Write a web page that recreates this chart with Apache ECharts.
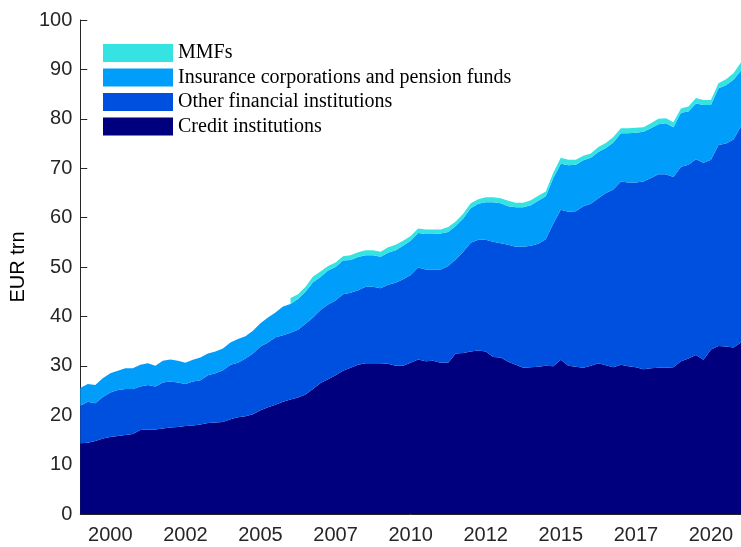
<!DOCTYPE html>
<html>
<head>
<meta charset="utf-8">
<script src="https://cdn.jsdelivr.net/npm/echarts@6/dist/echarts.min.js"></script>
<style>
html,body{margin:0;padding:0;background:#fff;}
#chart{width:741px;height:547px;}
</style>
</head>
<body>
<div id="chart"></div>
<script>
// Quarterly observations, 1999 Q1 .. 2021 Q1 (EUR trn)
const startYear = 1999;
const credit = [14.3,14.4,14.8,15.3,15.6,15.8,16.0,16.2,17.0,17.1,
 17.1,17.3,17.5,17.6,17.8,17.9,18.1,18.4,18.5,18.6,
 19.2,19.6,19.8,20.2,21.0,21.6,22.1,22.7,23.2,23.6,
 24.2,25.3,26.5,27.3,28.1,29.0,29.6,30.2,30.5,30.5,
 30.5,30.4,30.0,30.0,30.6,31.3,30.9,31.0,30.6,30.6,
 32.5,32.6,32.9,33.1,32.9,31.8,31.7,30.8,30.2,29.6,
 29.7,29.8,30.0,29.9,31.2,30.0,29.8,29.6,30.0,30.5,
 30.1,29.7,30.2,29.9,29.7,29.3,29.5,29.6,29.6,29.7,
 30.9,31.5,32.2,31.2,33.3,34.0,33.9,33.7,34.7];
const otherFin = [7.6,8.3,7.6,8.4,9.0,9.3,9.3,9.1,8.8,9.0,
 8.7,9.3,9.3,9.0,8.5,8.9,9.0,9.7,10.0,10.5,
 11.0,11.0,11.7,12.3,12.9,13.1,13.7,13.5,13.5,13.7,
 14.3,14.5,14.8,15.1,15.1,15.5,15.2,15.1,15.5,15.5,
 15.2,16.0,16.8,17.5,17.8,18.6,18.6,18.5,18.9,19.6,
 19.0,20.5,22.0,22.4,22.6,23.3,23.1,23.7,23.9,24.5,
 24.6,24.9,25.6,28.9,30.4,31.2,31.5,32.7,32.8,33.4,
 34.9,36.0,37.1,37.2,37.4,38.0,38.5,39.2,39.2,38.5,
 39.4,39.2,39.6,39.9,38.4,40.7,41.1,42.1,43.8];
const insurance = [3.6,3.6,3.7,3.8,3.9,3.9,4.2,4.2,4.4,4.4,
 4.2,4.4,4.5,4.4,4.3,4.4,4.6,4.4,4.4,4.4,
 4.5,4.8,4.5,4.6,4.7,5.1,5.0,5.8,5.8,6.2,
 6.5,7.1,6.7,6.9,6.8,6.8,6.6,6.7,6.4,6.4,
 6.4,6.5,6.6,6.8,6.9,7.0,7.2,7.2,7.3,6.9,
 6.8,6.7,7.0,7.3,7.6,8.0,8.1,7.8,8.0,8.0,
 8.2,8.7,8.7,9.2,9.3,9.4,9.4,9.3,9.3,9.4,
 9.1,9.5,9.8,10.0,10.1,10.1,10.1,10.1,10.3,10.1,
 10.9,10.8,11.3,11.7,11.1,11.5,11.8,12.1,11.3];
const mmf = [null,null,null,null,null,null,null,null,null,null,
 null,null,null,null,null,null,null,null,null,null,
 null,null,null,null,null,null,null,null,
 1.2,1.0,1.0,1.2,1.1,0.9,0.9,0.9,1.0,1.0,
 1.0,1.0,1.0,1.1,1.1,1.0,1.0,0.9,0.9,0.9,
 0.8,1.0,0.9,1.0,1.0,0.9,1.0,1.0,1.0,1.1,
 0.9,0.9,1.0,1.0,1.0,1.1,1.2,1.1,1.0,0.9,
 0.9,1.0,1.0,1.1,1.0,1.0,1.0,0.9,1.0,1.1,
 1.0,1.0,0.9,1.0,1.1,1.0,1.0,1.0,1.2,1.3,1.6];
const seriesNames = ['Credit institutions','Other financial institutions','Insurance corporations and pension funds','MMFs'];
const tickCats = ['2000Q1','2002Q3','2005Q1','2007Q3','2010Q1','2012Q3','2015Q1','2017Q3','2020Q1'];
const tickLabels = ['2000','2002','2005','2007','2010','2012','2015','2017','2020'];

const quarters = credit.map((_, i) => (startYear + Math.floor(i / 4)) + 'Q' + (i % 4 + 1));
const colors = ['#00007F', '#0050E0', '#009DFA', '#35E3E3'];
const values = [credit, otherFin, insurance, mmf];

const chart = echarts.init(document.getElementById('chart'));
chart.setOption({
  animation: false,
  backgroundColor: '#ffffff',
  grid: { left: 79, right: -2, top: 20, bottom: 33 },
  legend: {
    data: ['MMFs','Insurance corporations and pension funds','Other financial institutions','Credit institutions'],
    orient: 'vertical',
    left: 103, top: 43, padding: 0,
    itemWidth: 70, itemHeight: 18, itemGap: 4.5,
    icon: 'rect',
    textStyle: { fontFamily: 'Liberation Serif', fontSize: 20, color: '#000' }
  },
  xAxis: {
    type: 'category',
    data: quarters,
    boundaryGap: false,
    axisLine: { show: true, lineStyle: { color: '#262626', width: 1 } },
    axisTick: { show: false },
    splitLine: { show: false },
    axisLabel: {
      interval: (idx, val) => tickCats.indexOf(val) >= 0,
      formatter: (val) => tickLabels[tickCats.indexOf(val)],
      fontFamily: 'Liberation Sans', fontSize: 20, color: '#262626', margin: 11
    }
  },
  yAxis: {
    type: 'value',
    min: 0, max: 100, interval: 10,
    name: 'EUR trn',
    nameLocation: 'middle',
    nameGap: 41,
    nameRotate: 90,
    nameTextStyle: { fontFamily: 'Liberation Sans', fontSize: 20, color: '#000' },
    axisLine: { show: true, lineStyle: { color: '#262626', width: 1 } },
    axisTick: { show: true, inside: true, length: 7, lineStyle: { color: '#262626' } },
    splitLine: { show: false },
    axisLabel: { fontFamily: 'Liberation Sans', fontSize: 20, color: '#262626', margin: 8 }
  },
  series: seriesNames.map((name, k) => ({
    name: name,
    type: 'line',
    stack: 'total',
    data: values[k],
    showSymbol: false,
    symbol: 'none',
    connectNulls: false,
    itemStyle: { color: colors[k] },
    lineStyle: { width: 0, opacity: 0 },
    areaStyle: { color: colors[k], opacity: 1 },
    emphasis: { disabled: true }
  }))
});
</script>
</body>
</html>
